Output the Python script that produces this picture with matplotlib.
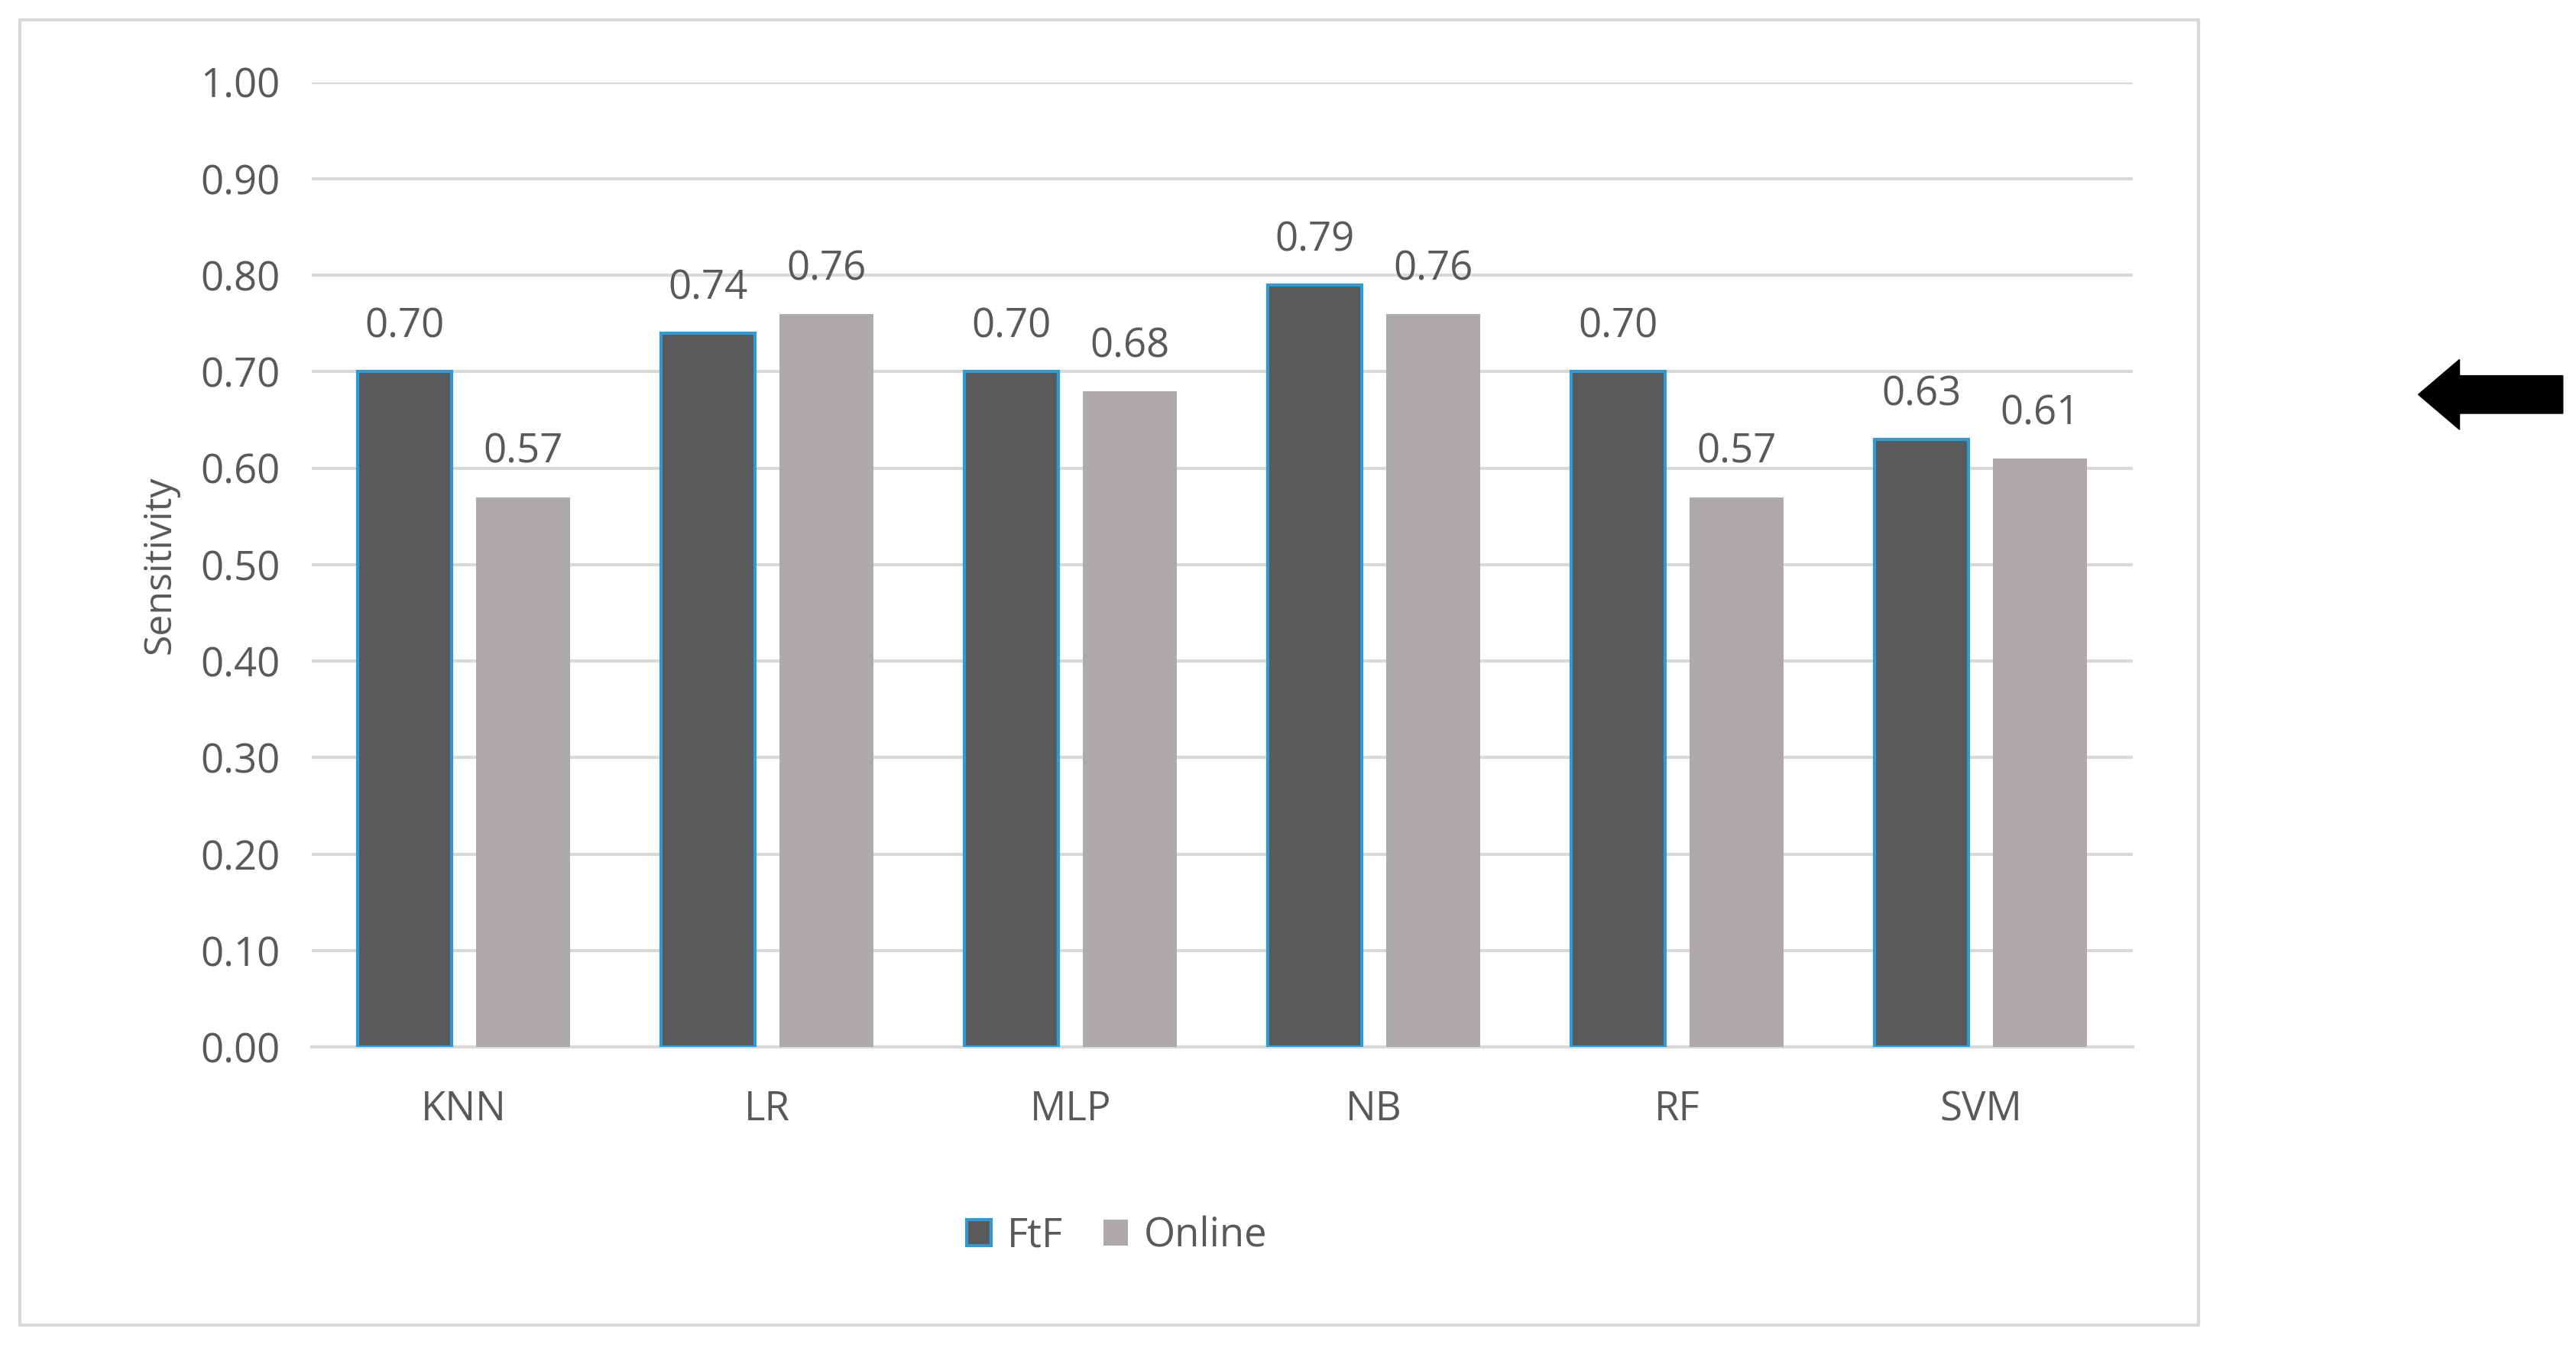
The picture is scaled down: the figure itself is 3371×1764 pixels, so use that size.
import matplotlib
matplotlib.use("Agg")
import matplotlib.pyplot as plt
import numpy as np
from matplotlib.patches import Rectangle, FancyArrow

categories = ["KNN", "LR", "MLP", "NB", "RF", "SVM"]
ftf = [0.70, 0.74, 0.70, 0.79, 0.70, 0.63]
online = [0.57, 0.76, 0.68, 0.76, 0.57, 0.61]
yticks = [0.0, 0.1, 0.2, 0.3, 0.4, 0.5, 0.6, 0.7, 0.8, 0.9, 1.0]

plt.rcParams['font.family'] = ['Open Sans', 'DejaVu Sans']
fig = plt.figure(figsize=(33.71, 17.64), dpi=100)
fig.patches.append(Rectangle((12/1568, 1-806/820), (1338-12)/1568, (806-12)/820,
                             transform=fig.transFigure, fill=False, ec='#d9d9d9', lw=3))
ax = fig.add_axes([190/1568, 1-637/820, (1298-190)/1568, (637-50)/820])
x = np.arange(len(categories))
w = 0.31
tc = '#595959'
b1 = ax.bar(x - 0.195, ftf, w, color='#595959', edgecolor='#2E9BD6', lw=3, label='FtF', zorder=3)
b2 = ax.bar(x + 0.195, online, w, color='#AEAAAA', label='Online', zorder=3)
for bars, vals in ((b1, ftf), (b2, online)):
    for r, v in zip(bars, vals):
        ax.text(r.get_x() + r.get_width()/2, v + 0.025, f"{v:.2f}", ha='center', va='bottom',
                fontsize=38, color=tc)
ax.set_xlim(-0.5, len(categories) - 0.5)
ax.set_ylim(0, 1.0)
ax.set_yticks(yticks)
ax.set_yticklabels([f"{t:.2f}" for t in yticks], fontsize=38, color=tc)
ax.set_xticks(x)
ax.set_xticklabels(categories, fontsize=38, color=tc)
ax.tick_params(length=0, pad=40, axis='x')
ax.tick_params(length=0, pad=30, axis='y')
ax.grid(axis='y', color='#d9d9d9', lw=3, zorder=0)
for s in ['top', 'right', 'left']:
    ax.spines[s].set_visible(False)
ax.spines['bottom'].set_color('#d9d9d9')
ax.spines['bottom'].set_linewidth(3)
ax.set_ylabel('Sensitivity', fontsize=36, color=tc, labelpad=20)
fig.legend(handles=[b1, b2], loc='center', bbox_to_anchor=(680/1568, 1-752/820), ncol=2,
           frameon=False, fontsize=38, labelcolor=tc, handlelength=0.6, handleheight=0.6,
           columnspacing=1.0, handletextpad=0.4)
fig.patches.append(FancyArrow(1560/1568, 1-240/820, -88/1568, 0, width=0.028,
                              head_width=0.052, head_length=0.016,
                              length_includes_head=True, transform=fig.transFigure,
                              color='black'))
fig.savefig('out.png', dpi=100)
